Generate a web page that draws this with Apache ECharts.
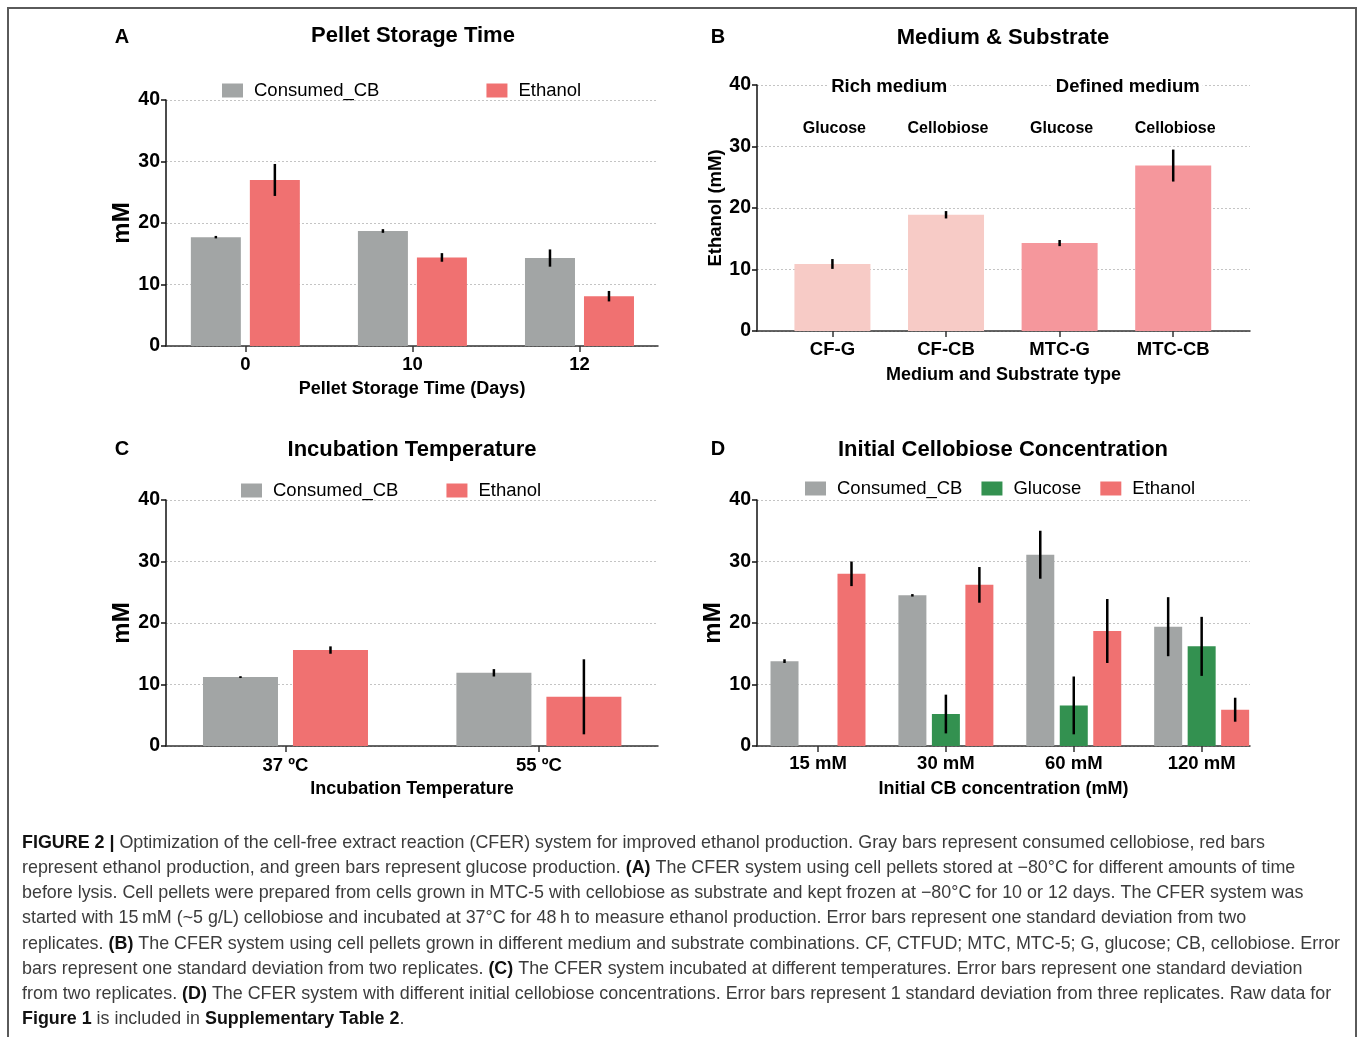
<!DOCTYPE html>
<html><head><meta charset="utf-8">
<script src="https://cdn.jsdelivr.net/npm/echarts@6/dist/echarts.min.js"></script>
<style>html,body{margin:0;padding:0;background:#fff}#c{width:1358px;height:1037px}</style>
</head><body><div id="c"></div>
<script>
// ---------- DATA ----------
// Panel A: Pellet storage time
const A_categories = ['0', '10', '12'];
const A_consumed = [17.7, 18.7, 14.3];
const A_consumedErr = [0.2, 0.3, 1.4];
const A_ethanol = [27.0, 14.4, 8.1];
const A_ethanolErr = [2.6, 0.7, 0.85];
// Panel B: Medium & substrate
const B_categories = ['CF-G', 'CF-CB', 'MTC-G', 'MTC-CB'];
const B_ethanol = [10.9, 18.9, 14.3, 26.9];
const B_ethanolErr = [0.8, 0.6, 0.5, 2.6];
const B_substrates = ['Glucose', 'Cellobiose', 'Glucose', 'Cellobiose'];
const B_media = ['Rich medium', 'Defined medium'];
// Panel C: Incubation temperature
const C_categories = ['37 \u00baC', '55 \u00baC'];
const C_consumed = [11.2, 11.9];
const C_consumedErr = [0.15, 0.6];
const C_ethanol = [15.6, 8.0];
const C_ethanolErr = [0.6, 6.1];
// Panel D: Initial cellobiose concentration
const D_categories = ['15 mM', '30 mM', '60 mM', '120 mM'];
const D_consumed = [13.8, 24.5, 31.1, 19.4];
const D_consumedErr = [0.3, 0.2, 3.9, 4.8];
const D_glucose = [0, 5.2, 6.6, 16.2];
const D_glucoseErr = [0, 3.15, 4.7, 4.8];
const D_ethanol = [28.0, 26.2, 18.7, 5.9];
const D_ethanolErr = [2.0, 2.9, 5.2, 1.95];
// Y axis ticks (shared)
const yMin = 0, yMax = 40, yStep = 10;
// Caption lines: [text, bold]
const captionLines = [
  [['FIGURE 2 |', true], [' Optimization of the cell-free extract reaction (CFER) system for improved ethanol production. Gray bars represent consumed cellobiose, red bars', false]],
  [['represent ethanol production, and green bars represent glucose production. ', false], ['(A)', true], [' The CFER system using cell pellets stored at \u221280\u00b0C for different amounts of time', false]],
  [['before lysis. Cell pellets were prepared from cells grown in MTC-5 with cellobiose as substrate and kept frozen at \u221280\u00b0C for 10 or 12 days. The CFER system was', false]],
  [['started with 15\u2009mM (~5 g/L) cellobiose and incubated at 37\u00b0C for 48\u2009h to measure ethanol production. Error bars represent one standard deviation from two', false]],
  [['replicates. ', false], ['(B)', true], [' The CFER system using cell pellets grown in different medium and substrate combinations. CF, CTFUD; MTC, MTC-5; G, glucose; CB, cellobiose. Error', false]],
  [['bars represent one standard deviation from two replicates. ', false], ['(C)', true], [' The CFER system incubated at different temperatures. Error bars represent one standard deviation', false]],
  [['from two replicates. ', false], ['(D)', true], [' The CFER system with different initial cellobiose concentrations. Error bars represent 1 standard deviation from three replicates. Raw data for', false]],
  [['Figure 1', true], [' is included in ', false], ['Supplementary Table 2', true], ['.', false]]
];

// ---------- STYLE ----------
const F = "'Liberation Sans', Arial, Helvetica, sans-serif";
const GRAY = '#a2a5a5', RED = '#f07171', GREEN = '#339150', PINK_L = '#f7cbc6', PINK_D = '#f5979c';
const AX = '#333';
const CAP = 17.9;

function mkX(grid, cats, min, max, name, margin, nameGap) {
  const vals = cats.map((c, i) => i);
  return {
    type: 'value', gridIndex: grid, min: min, max: max,
    name: name, nameLocation: 'middle', nameGap: nameGap,
    nameTextStyle: { fontFamily: F, fontWeight: 'bold', fontSize: 18, color: '#000' },
    splitLine: { show: false },
    axisLine: { show: true, onZero: false, lineStyle: { color: AX, width: 1.5 } },
    axisTick: { show: true, customValues: vals, length: 6, lineStyle: { color: AX, width: 1.5 } },
    axisLabel: { show: true, customValues: vals, formatter: v => cats[Math.round(v)], margin: margin,
      fontFamily: F, fontWeight: 'bold', fontSize: 18.5, color: '#000' }
  };
}
function mkY(grid, name, nameGap, nameSize) {
  return {
    type: 'value', gridIndex: grid, min: yMin, max: yMax, interval: yStep,
    name: name, nameLocation: 'middle', nameGap: nameGap, nameRotate: 90,
    nameTextStyle: { fontFamily: F, fontWeight: 'bold', fontSize: nameSize, color: '#000' },
    axisLine: { show: true, onZero: false, lineStyle: { color: '#111', width: 1.5 } },
    axisTick: { show: true, length: 5, lineStyle: { color: '#111', width: 1.5 } },
    axisLabel: { margin: 6, fontFamily: F, fontWeight: 'bold', fontSize: 19.5, color: '#000', padding: [4, 0, 0, 0] },
    splitLine: { show: true, lineStyle: { color: '#c4c4c4', type: [2, 2], width: 1 } }
  };
}
function bars(name, grid, vals, color, width, gap) {
  return {
    type: 'bar', name: name, xAxisIndex: grid, yAxisIndex: grid, barWidth: width, barGap: gap,
    data: vals.map((v, i) => [i, v]), itemStyle: { color: color }, silent: true, z: 2
  };
}
function errs(grid, vals, e, offset) {
  return {
    type: 'custom', xAxisIndex: grid, yAxisIndex: grid, z: 5, silent: true,
    data: vals.map((v, i) => [i, v, e[i]]),
    renderItem: function (p, api) {
      const x = api.value(0), v = api.value(1), d = api.value(2);
      if (!d) return null;
      const a = api.coord([x, v - d]), b = api.coord([x, v + d]);
      return { type: 'line', shape: { x1: a[0] + offset, y1: a[1], x2: b[0] + offset, y2: b[1] },
        style: { stroke: '#000', lineWidth: 2.5 } };
    }
  };
}
function legend(names, left, top, gap) {
  return {
    data: names, left: left, top: top, padding: 0, itemWidth: 21, itemHeight: 14, itemGap: gap,
    icon: 'rect', selectedMode: false,
    textStyle: { fontFamily: F, fontSize: 18.5, color: '#000', padding: [0, 0, 0, 6] }
  };
}
let gid = 0;
function txt(s, x, y, size, extra) {
  return Object.assign({ type: 'text', id: 't' + (gid++), x: x, y: y, silent: true, z: 10,
    style: { text: s, font: 'bold ' + size + 'px ' + F, fill: '#000', textAlign: 'center', textVerticalAlign: 'middle' } }, extra || {});
}

// caption graphic
const captionGraphics = captionLines.map((segs, i) => {
  const s = segs.map(([t, b]) => b ? '{b|' + t + '}' : '{n|' + t + '}').join('');
  return { type: 'text', id: 'cap' + i, x: 22, y: 843 + i * 25.15, silent: true,
    style: { text: s, textVerticalAlign: 'middle', textAlign: 'left', font: CAP + 'px ' + F, fill: '#3c3c3c',
      rich: { n: { fontFamily: F, fontSize: CAP, fill: '#3c3c3c' }, b: { fontFamily: F, fontSize: CAP, fontWeight: 'bold', fill: '#111' } } } };
});

const option = {
  animation: false,
  backgroundColor: '#fff',
  grid: [
    { left: 166, top: 100, width: 492, height: 246, outerBoundsMode: 'none' },
    { left: 757, top: 85, width: 493, height: 246, outerBoundsMode: 'none' },
    { left: 166, top: 500, width: 492, height: 246, outerBoundsMode: 'none' },
    { left: 757, top: 500, width: 493, height: 246, outerBoundsMode: 'none' }
  ],
  xAxis: [
    mkX(0, A_categories, -0.475, 2.47, 'Pellet Storage Time (Days)', 9, 34),
    mkX(1, B_categories, -0.664, 3.676, 'Medium and Substrate type', 9, 35),
    mkX(2, C_categories, -0.4715, 1.47, 'Incubation Temperature', 10, 34),
    mkX(3, D_categories, -0.477, 3.378, 'Initial CB concentration (mM)', 8, 34)
  ],
  yAxis: [
    mkY(0, 'mM', 32, 24),
    mkY(1, 'Ethanol (mM)', 27, 18.5),
    mkY(2, 'mM', 32, 24),
    mkY(3, 'mM', 31, 24)
  ],
  legend: [
    legend(['Consumed_CB', 'Ethanol'], 222, 81, 107),
    legend(['Consumed_CB', 'Ethanol'], 241, 481, 48),
    legend(['Consumed_CB', 'Glucose', 'Ethanol'], 805, 479, 19)
  ],
  series: [
    // A
    bars('Consumed_CB', 0, A_consumed, GRAY, 50, '18%'),
    bars('Ethanol', 0, A_ethanol, RED, 50, '18%'),
    errs(0, A_consumed, A_consumedErr, -29.5),
    errs(0, A_ethanol, A_ethanolErr, 29.5),
    // B
    {
      type: 'bar', name: 'Ethanol_B', xAxisIndex: 1, yAxisIndex: 1, barWidth: 76, silent: true, z: 2,
      data: B_ethanol.map((v, i) => ({ value: [i, v], itemStyle: { color: i < 2 ? PINK_L : PINK_D } }))
    },
    errs(1, B_ethanol, B_ethanolErr, 0),
    // C
    bars('Consumed_CB', 2, C_consumed, GRAY, 75, '20%'),
    bars('Ethanol', 2, C_ethanol, RED, 75, '20%'),
    errs(2, C_consumed, C_consumedErr, -45),
    errs(2, C_ethanol, C_ethanolErr, 45),
    // D
    bars('Consumed_CB', 3, D_consumed, GRAY, 28, '19.6%'),
    bars('Glucose', 3, D_glucose, GREEN, 28, '19.6%'),
    bars('Ethanol', 3, D_ethanol, RED, 28, '19.6%'),
    errs(3, D_consumed, D_consumedErr, -33.5),
    errs(3, D_glucose, D_glucoseErr, 0),
    errs(3, D_ethanol, D_ethanolErr, 33.5)
  ],
  graphic: [
    { type: 'rect', id: 'frame', silent: true, shape: { x: 8, y: 8, width: 1348, height: 1060 }, style: { fill: 'none', stroke: '#5a5a5a', lineWidth: 2 } },
    txt('A', 122, 37, 20), txt('B', 718, 37, 20), txt('C', 122, 449, 20), txt('D', 718, 449, 20),
    txt('Pellet Storage Time', 413, 36, 22),
    txt('Medium & Substrate', 1003, 38, 22),
    txt('Incubation Temperature', 412, 450, 22),
    txt('Initial Cellobiose Concentration', 1003, 450, 22)
  ].concat(captionGraphics)
};

const chart = echarts.init(document.getElementById('c'), null, { renderer: 'canvas' });
chart.setOption(option);

// Panel B annotations positioned through panel B's own scales
const bAnno = [];
B_substrates.forEach((s, i) => {
  const p = chart.convertToPixel({ gridIndex: 1 }, [i, 33]);
  bAnno.push(txt(s, p[0] + 2, p[1] + 1, 16));
});
B_media.forEach((s, i) => {
  const p = chart.convertToPixel({ gridIndex: 1 }, [i === 0 ? 0.5 : 2.6, 39.8]);
  const t = txt(s, p[0], p[1] + 1, 18.5);
  t.style.backgroundColor = '#fff';
  t.style.padding = [0, 3];
  bAnno.push(t);
});
chart.setOption({ graphic: bAnno });
</script>
</body></html>
